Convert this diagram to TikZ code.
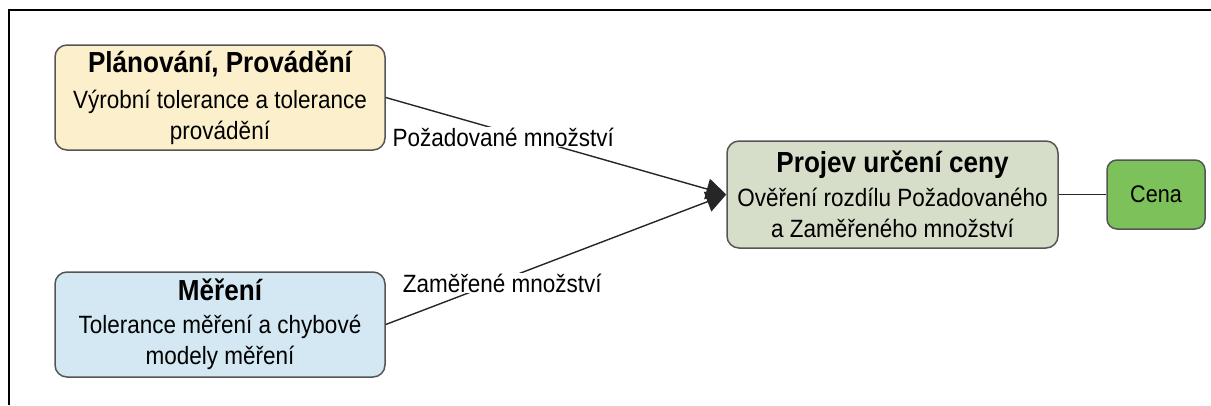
\documentclass[tikz,border=0pt]{standalone}
\usepackage{fontspec}
\setmainfont{Liberation Sans}[FakeStretch=0.9]
\usetikzlibrary{arrows.meta}
\definecolor{boxyellow}{HTML}{FCEFCB}
\definecolor{boxblue}{HTML}{D3E8F2}
\definecolor{boxgrey}{HTML}{D6DDC9}
\definecolor{boxgreen}{HTML}{7DC15A}
\definecolor{boxedge}{HTML}{555555}
\tikzset{
  stepbox/.style={draw=boxedge, line width=1.5pt, rounded corners=12pt, align=center,
    inner sep=0pt, font=\fontsize{25}{31}\selectfont},
  conn/.style={line width=1.4pt, draw=black!85},
  arr/.style={conn, -{Triangle[length=20pt,width=21pt]}},
  lbl/.style={fill=white, inner sep=1pt, font=\fontsize{25}{30}\selectfont},
}
\newcommand{\boxtitle}[1]{{\bfseries\fontsize{29}{31}\selectfont #1}}
\begin{document}
\begin{tikzpicture}[x=1pt,y=-1pt]
\useasboundingbox (0,0) rectangle (1211,405);
\draw[line width=2pt] (1211,10) -- (9,10) -- (9,405);
\node[stepbox, fill=boxyellow, minimum width=330pt, minimum height=105pt] (plan) at (220,97.5)
  {\boxtitle{Plánování, Provádění}\\[5pt] Výrobní tolerance a tolerance\\ provádění};
\node[stepbox, fill=boxblue, minimum width=330pt, minimum height=105pt] (mer) at (220,324.5)
  {\boxtitle{Měření}\\[2pt] Tolerance měření a chybové\\ modely měření};
\node[stepbox, fill=boxgrey, minimum width=331pt, minimum height=107pt] (proj) at (892.5,194.5)
  {\boxtitle{Projev určení ceny}\\[3pt] Ověření rozdílu Požadovaného\\ a Zaměřeného množství};
\node[stepbox, fill=boxgreen, minimum width=98pt, minimum height=69pt, rounded corners=10pt,
  font=\fontsize{24}{28}\selectfont] (cena) at (1156,194.5) {Cena};
\draw[arr] (plan.east) -- node[lbl, pos=0.345, yshift=-6pt] (lp) {Požadované množství} (proj.west);
\draw[arr] (mer.east) -- node[lbl, pos=0.342, yshift=-3pt] (lz) {Zaměřené množství} (proj.west);
\draw[conn] (proj.east) -- (cena.west);
\end{tikzpicture}
\end{document}
